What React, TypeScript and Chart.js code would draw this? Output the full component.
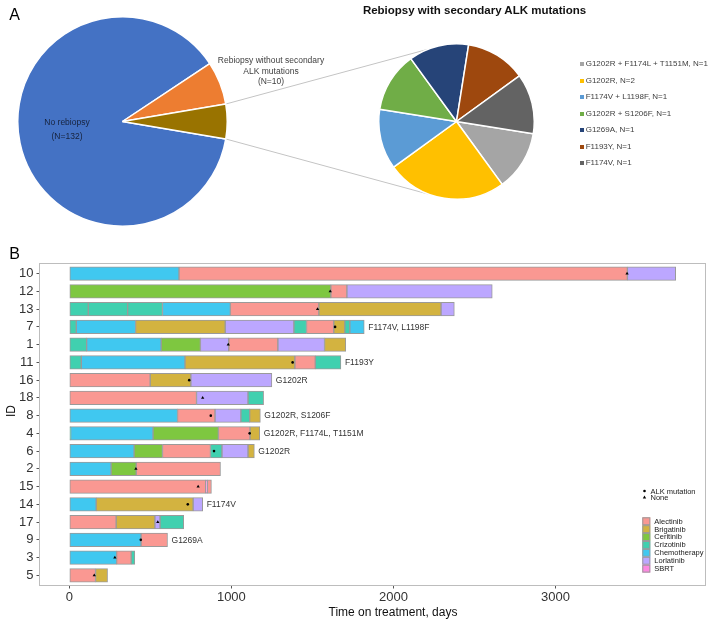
import React, { useEffect, useRef } from 'react';
import { Chart, registerables } from 'chart.js';

Chart.register(...registerables);

const FONT = '"Liberation Sans", Arial, Helvetica, sans-serif';

// ---------- Panel A data ----------
const overviewLabels = ['No rebiopsy', 'Rebiopsy without secondary ALK mutations', 'Rebiopsy with secondary ALK mutations'];
const overviewCounts = [132, 10, 8];
const overviewColors = ['#4472C4', '#ED7D31', '#997300'];

const mutationNames = ['G1202R + F1174L + T1151M', 'G1202R', 'F1174V + L1198F', 'G1202R + S1206F', 'G1269A', 'F1193Y', 'F1174V'];
const mutationCounts = [1, 2, 1, 1, 1, 1, 1];
const mutationColors = ['#A5A5A5', '#FFC000', '#5B9BD5', '#70AD47', '#264478', '#9E480E', '#636363'];

// ---------- Panel B data ----------
const patientIds = ['10', '12', '13', '7', '1', '11', '16', '18', '8', '4', '6', '2', '15', '14', '17', '9', '3', '5'];
const treatmentNames = ['Alectinib', 'Brigatinib', 'Ceritinib', 'Crizotinib', 'Chemotherapy', 'Lorlatinib', 'SBRT'];
const treatmentColors = ['#FA9892', '#D3B340', '#7EC740', '#40D0AF', '#40C8F0', '#BCA7FF', '#FC89E1'];

const lineDrugs: string[][] = [
  ['Chemotherapy', 'Alectinib', 'Lorlatinib'],
  ['Ceritinib', 'Alectinib', 'Lorlatinib'],
  ['Crizotinib', 'Crizotinib', 'Crizotinib', 'Chemotherapy', 'Alectinib', 'Brigatinib', 'Lorlatinib'],
  ['Crizotinib', 'Chemotherapy', 'Brigatinib', 'Lorlatinib', 'Crizotinib', 'Alectinib', 'Brigatinib', 'Crizotinib', 'Chemotherapy'],
  ['Crizotinib', 'Chemotherapy', 'Ceritinib', 'Lorlatinib', 'Alectinib', 'Lorlatinib', 'Brigatinib'],
  ['Crizotinib', 'Chemotherapy', 'Brigatinib', 'Alectinib', 'Crizotinib'],
  ['Alectinib', 'Brigatinib', 'Lorlatinib'],
  ['Alectinib', 'Lorlatinib', 'Crizotinib'],
  ['Chemotherapy', 'Alectinib', 'Lorlatinib', 'Crizotinib', 'Brigatinib'],
  ['Crizotinib', 'Chemotherapy', 'Ceritinib', 'Alectinib', 'Brigatinib'],
  ['Chemotherapy', 'Ceritinib', 'Alectinib', 'Crizotinib', 'Lorlatinib', 'Brigatinib'],
  ['Chemotherapy', 'Ceritinib', 'Alectinib'],
  ['Alectinib', 'SBRT', 'Alectinib'],
  ['Chemotherapy', 'Brigatinib', 'Lorlatinib'],
  ['Alectinib', 'Brigatinib', 'Lorlatinib', 'Crizotinib'],
  ['Chemotherapy', 'Alectinib'],
  ['Chemotherapy', 'Alectinib', 'Crizotinib'],
  ['Alectinib', 'Brigatinib'],
];

const lineEnds: number[][] = [
  [677, 3444, 3742],
  [1614, 1713, 2610],
  [117, 360, 575, 994, 1540, 2294, 2376],
  [43, 409, 962, 1386, 1464, 1632, 1700, 1731, 1820],
  [107, 567, 809, 984, 1287, 1575, 1706],
  [74, 714, 1392, 1518, 1676],
  [499, 750, 1250],
  [785, 1103, 1199],
  [668, 899, 1059, 1113, 1179],
  [8, 517, 920, 1115, 1175],
  [400, 575, 871, 942, 1103, 1142],
  [258, 413, 933],
  [842, 852, 877],
  [166, 764, 823],
  [289, 528, 560, 706],
  [443, 606],
  [292, 382, 404],
  [162, 236],
];

const eventDays = [3442, 1610, 1532, 1640, 981, 1378, 740, 823, 873, 1113, 893, 411, 795, 731, 546, 441, 281, 154];
const eventTypes = ['None', 'None', 'None', 'ALK mutation', 'None', 'ALK mutation', 'ALK mutation', 'None', 'ALK mutation', 'ALK mutation', 'ALK mutation', 'None', 'None', 'ALK mutation', 'None', 'ALK mutation', 'None', 'None'];
const mutationTexts = ['', '', '', 'F1174V, L1198F', '', 'F1193Y', 'G1202R', '', 'G1202R, S1206F', 'G1202R, F1174L, T1151M', 'G1202R', '', '', 'F1174V', '', 'G1269A', '', ''];
const xTickValues = [0, 1000, 2000, 3000];
const eventLegend = ['ALK mutation', 'None'];

// ---------- layout constants ----------
const BIG = { left: 17, top: 16, size: 211 };
const SMALL = { left: 378, top: 43, size: 157 };
const SWIM = { top: 240, height: 380 };

const Txt: React.FC<{ x: number; y: number; size: number; children: React.ReactNode; align?: 'center' | 'left'; bold?: boolean; color?: string; rotate?: boolean }> = ({ x, y, size, children, align = 'center', bold, color = '#222', rotate }) => (
  <div
    style={{
      position: 'absolute',
      left: x,
      top: y,
      transform: `translate(${align === 'center' ? '-50%' : '0'}, -50%)${rotate ? ' rotate(-90deg)' : ''}`,
      fontFamily: FONT,
      fontSize: size,
      fontWeight: bold ? 700 : 400,
      lineHeight: 1,
      whiteSpace: 'nowrap',
      color,
    }}
  >
    {children}
  </div>
);

export default function App() {
  const bigRef = useRef<HTMLCanvasElement>(null);
  const smallRef = useRef<HTMLCanvasElement>(null);
  const linesRef = useRef<HTMLCanvasElement>(null);
  const swimRef = useRef<HTMLCanvasElement>(null);

  useEffect(() => {
    const pieOpts = (rotation: number) => ({
      responsive: false,
      animation: false as const,
      devicePixelRatio: 1,
      rotation,
      events: [] as any[],
      layout: { padding: 0 },
      plugins: { legend: { display: false }, tooltip: { enabled: false } },
    });

    const bigChart = new Chart(bigRef.current!, {
      type: 'pie',
      data: {
        labels: overviewLabels,
        datasets: [{ data: overviewCounts, backgroundColor: overviewColors, borderColor: '#ffffff', borderWidth: 1.5 }],
      },
      options: pieOpts(99.6) as any,
    });

    const smallChart = new Chart(smallRef.current!, {
      type: 'pie',
      data: {
        labels: mutationNames,
        datasets: [{ data: mutationCounts, backgroundColor: mutationColors, borderColor: '#ffffff', borderWidth: 1.5 }],
      },
      options: pieOpts(99) as any,
    });

    // connector lines between the two pies
    const lc = linesRef.current!.getContext('2d')!;
    lc.clearRect(0, 0, 710, 240);
    const bigArc: any = bigChart.getDatasetMeta(0).data[2];
    const smallArc: any = smallChart.getDatasetMeta(0).data[0];
    const bx = BIG.left + bigArc.x, by = BIG.top + bigArc.y, br = bigArc.outerRadius;
    const sx = SMALL.left + smallArc.x, sy = SMALL.top + smallArc.y, sr = smallArc.outerRadius;
    const upper = (-112 * Math.PI) / 180;
    const lower = (110 * Math.PI) / 180;
    lc.strokeStyle = '#C4C4C4';
    lc.lineWidth = 1;
    lc.beginPath();
    lc.moveTo(bx + br * Math.cos(bigArc.startAngle), by + br * Math.sin(bigArc.startAngle));
    lc.lineTo(sx + sr * Math.cos(upper), sy + sr * Math.sin(upper));
    lc.moveTo(bx + br * Math.cos(bigArc.endAngle), by + br * Math.sin(bigArc.endAngle));
    lc.lineTo(sx + sr * Math.cos(lower), sy + sr * Math.sin(lower));
    lc.stroke();

    // ---------- swimmer plot ----------
    const maxEnd = Math.max(...lineEnds.map((e) => e[e.length - 1]));
    const pad = maxEnd * 0.05;

    const datasets: any[] = [
      {
        type: 'scatter',
        label: 'events',
        data: eventDays.map((d, i) => ({ x: d, y: i })),
        pointStyle: eventTypes.map((t) => (t === 'ALK mutation' ? 'circle' : 'triangle')),
        pointRadius: eventTypes.map((t) => (t === 'ALK mutation' ? 1.3 : 1.9)),
        backgroundColor: '#000',
        borderColor: '#000',
        borderWidth: 0,
        order: -1,
      },
    ];
    treatmentNames.forEach((name, k) => {
      const data: any[] = [];
      lineDrugs.forEach((drugs, row) => {
        let start = 0;
        drugs.forEach((d, j) => {
          const end = lineEnds[row][j];
          if (d === name) data.push({ x: [start, end], y: row });
          start = end;
        });
      });
      datasets.push({
        type: 'bar',
        label: name,
        data,
        indexAxis: 'y',
        grouped: false,
        barThickness: 13.5,
        backgroundColor: treatmentColors[k],
        borderColor: '#9A9A9A',
        borderWidth: 1,
        borderSkipped: false,
        order: 1,
      });
    });

    const decor = {
      id: 'swimDecor',
      afterDatasetsDraw(chart: any) {
        const { ctx, chartArea: ca, scales } = chart;
        const xs = scales.x, ys = scales.y;
        ctx.save();
        // panel frame
        ctx.strokeStyle = '#BDBDBD';
        ctx.lineWidth = 1;
        ctx.strokeRect(ca.left + 0.5, ca.top + 0.5, ca.right - ca.left - 1, ca.bottom - ca.top - 1);
        // mutation labels
        ctx.font = `8.5px ${FONT}`;
        ctx.fillStyle = '#333';
        ctx.textBaseline = 'middle';
        ctx.textAlign = 'left';
        mutationTexts.forEach((t, i) => {
          if (!t) return;
          const ends = lineEnds[i];
          ctx.fillText(t, xs.getPixelForValue(ends[ends.length - 1]) + 4, ys.getPixelForValue(i) + 0.5);
        });
        // legend: events
        const lx = ca.right - 61.5;
        ctx.font = `7.5px ${FONT}`;
        eventLegend.forEach((lab, i) => {
          const y = ca.bottom - 95 + i * 6.5;
          ctx.fillStyle = '#000';
          if (lab === 'ALK mutation') {
            ctx.beginPath();
            ctx.arc(lx, y, 1.3, 0, Math.PI * 2);
            ctx.fill();
          } else {
            ctx.beginPath();
            ctx.moveTo(lx, y - 1.9);
            ctx.lineTo(lx + 1.7, y + 1.1);
            ctx.lineTo(lx - 1.7, y + 1.1);
            ctx.closePath();
            ctx.fill();
          }
          ctx.fillStyle = '#1a1a1a';
          ctx.fillText(lab, lx + 6, y + 0.5);
        });
        // legend: treatments
        const bx0 = ca.right - 63.7;
        treatmentNames.forEach((name, i) => {
          const top = ca.bottom - 68.7 + i * 7.9;
          ctx.fillStyle = treatmentColors[i];
          ctx.fillRect(bx0, top, 8, 7.9);
          ctx.strokeStyle = '#9A9A9A';
          ctx.strokeRect(bx0 + 0.5, top + 0.5, 7, 6.9);
          ctx.fillStyle = '#1a1a1a';
          ctx.fillText(name, bx0 + 12, top + 4.3);
        });
        ctx.restore();
      },
    };

    const swim = new Chart(swimRef.current!, {
      type: 'bar',
      data: { datasets },
      options: {
        responsive: false,
        animation: false,
        devicePixelRatio: 1,
        events: [],
        layout: { padding: { top: 23, right: 3, left: 0, bottom: 0 } },
        plugins: { legend: { display: false }, tooltip: { enabled: false } },
        scales: {
          x: {
            type: 'linear',
            offset: false,
            min: -pad,
            max: maxEnd + pad,
            border: { display: false },
            grid: { display: true, offset: false, drawOnChartArea: false, drawTicks: true, tickLength: 2.5, color: '#555' },
            ticks: { font: { family: FONT, size: 13 }, color: '#333', padding: 1.5, maxRotation: 0, callback: (v: any) => String(v) },
            afterBuildTicks: (s: any) => {
              s.ticks = xTickValues.map((v) => ({ value: v }));
            },
            afterFit: (s: any) => {
              s.height = 34;
            },
          },
          y: {
            type: 'linear',
            offset: false,
            reverse: true,
            min: -0.6,
            max: patientIds.length - 1 + 0.6,
            border: { display: false },
            grid: { display: true, offset: false, drawOnChartArea: false, drawTicks: true, tickLength: 2.5, color: '#555' },
            ticks: {
              autoSkip: false,
              font: { family: FONT, size: 13 },
              color: '#333',
              padding: 3,
              callback: (v: any) => patientIds[v] ?? '',
            },
            afterBuildTicks: (s: any) => {
              s.ticks = patientIds.map((_, i) => ({ value: i }));
            },
            afterFit: (s: any) => {
              s.width = 39;
            },
          },
        },
      } as any,
      plugins: [decor],
    });

    return () => {
      bigChart.destroy();
      smallChart.destroy();
      swim.destroy();
    };
  }, []);

  return (
    <div style={{ position: 'absolute', left: 0, top: 0, width: 710, height: 620, background: '#fff', overflow: 'hidden' }}>
      <canvas ref={linesRef} width={710} height={240} style={{ position: 'absolute', left: 0, top: 0 }} />
      <canvas ref={bigRef} width={BIG.size} height={BIG.size} style={{ position: 'absolute', left: BIG.left, top: BIG.top }} />
      <canvas ref={smallRef} width={SMALL.size} height={SMALL.size} style={{ position: 'absolute', left: SMALL.left, top: SMALL.top }} />
      <canvas ref={swimRef} width={710} height={SWIM.height} style={{ position: 'absolute', left: 0, top: SWIM.top }} />

      <Txt x={14.5} y={14.5} size={16} color="#000">A</Txt>
      <Txt x={14.5} y={254} size={16} color="#000">B</Txt>

      <Txt x={474.5} y={11} size={11.5} bold color="#111">Rebiopsy with secondary ALK mutations</Txt>

      <Txt x={67} y={122} size={8.5} color="#17233d">{overviewLabels[0]}</Txt>
      <Txt x={67} y={136} size={8.5} color="#17233d">(N={overviewCounts[0]})</Txt>

      <Txt x={271} y={60} size={8.5} color="#404040">Rebiopsy without secondary</Txt>
      <Txt x={271} y={70.5} size={8.5} color="#404040">ALK mutations</Txt>
      <Txt x={271} y={81} size={8.5} color="#404040">(N={overviewCounts[1]})</Txt>

      {mutationNames.map((m, i) => (
        <React.Fragment key={m}>
          <div style={{ position: 'absolute', left: 579.5, top: 64 + i * 16.55 - 2, width: 4, height: 4, background: mutationColors[i] }} />
          <Txt x={585.7} y={64 + i * 16.55} size={8} align="left" color="#404040">
            {m}, N={mutationCounts[i]}
          </Txt>
        </React.Fragment>
      ))}

      <Txt x={10.5} y={410.5} size={12} rotate color="#111">ID</Txt>
      <Txt x={393} y={611.5} size={12} color="#111">Time on treatment, days</Txt>
    </div>
  );
}
